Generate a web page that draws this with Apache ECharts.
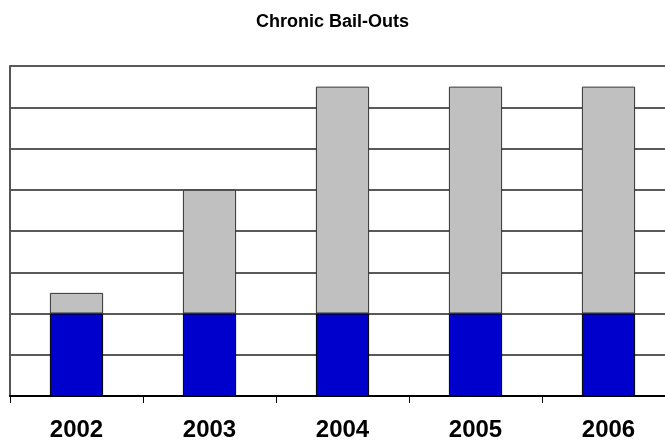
<!DOCTYPE html>
<html>
<head>
<meta charset="utf-8">
<script src="https://cdn.jsdelivr.net/npm/echarts@6/dist/echarts.min.js"></script>
<style>
  html, body { margin: 0; padding: 0; background: #fff; }
  #chart { width: 665px; height: 441px; }
</style>
</head>
<body>
<div id="chart"></div>
<script>
// data
const years = ['2002', '2003', '2004', '2005', '2006']
const baseValues = [2, 2, 2, 2, 2]
const extraValues = [0.5, 3, 5.5, 5.5, 5.5]

const chart = echarts.init(document.getElementById('chart'), null, { renderer: 'canvas' })

chart.setOption({
  animation: false,
  title: {
    text: 'Chronic Bail-Outs',
    left: 'center',
    top: 8,
    textStyle: { fontFamily: 'Liberation Sans, Arial', fontSize: 18, fontWeight: 'bold', color: '#000' },
  },
  // plot runs off the right edge like in the original
  grid: { left: 10, top: 66, width: 665, height: 330, outerBoundsMode: 'none', containLabel: false },
  xAxis: {
    type: 'category',
    data: years,
    axisLine: { lineStyle: { color: '#000', width: 2 } },
    axisTick: { show: true, length: 7, lineStyle: { color: '#000' } },
    axisLabel: {
      fontFamily: 'Liberation Sans, Arial',
      fontSize: 24,
      fontWeight: 'bold',
      color: '#000',
      margin: 22,
    },
  },
  yAxis: {
    type: 'value',
    min: 0,
    max: 8,
    interval: 1,
    axisLine: { show: true, lineStyle: { color: '#555', width: 2 } },
    axisTick: { show: false },
    axisLabel: { show: false },
    splitLine: { lineStyle: { color: '#222', width: 1.5 } },
  },
  series: [
    {
      type: 'bar',
      stack: 'total',
      data: baseValues,
      barWidth: '40%',
      itemStyle: { color: '#0000CC', borderColor: '#000', borderWidth: 1 },
    },
    {
      type: 'bar',
      stack: 'total',
      data: extraValues,
      barWidth: '40%',
      itemStyle: { color: '#C0C0C0', borderColor: '#333', borderWidth: 1 },
    },
  ],
})
</script>
</body>
</html>
